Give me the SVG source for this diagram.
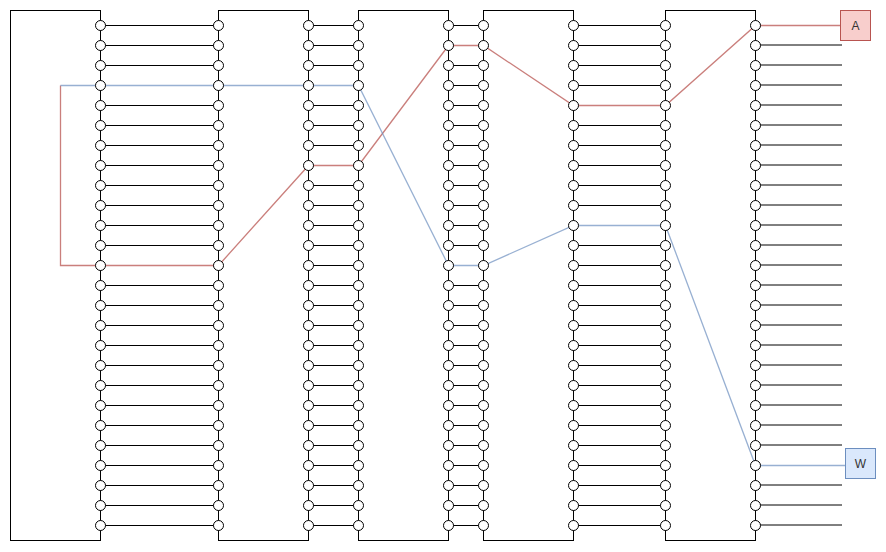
<svg xmlns="http://www.w3.org/2000/svg" width="886" height="552" viewBox="0 0 886 552">
<style>
.panel{fill:none;stroke:#000;stroke-width:1}
.p{fill:#fff;stroke:#000;stroke-width:1}
.wire{fill:none;stroke:#000;stroke-width:1}
.wire2{fill:none;stroke:#000;stroke-width:1}
.red{fill:none;stroke:#b85450;stroke-width:1.3;stroke-opacity:0.75}
.blue{fill:none;stroke:#6c8ebf;stroke-width:1.3;stroke-opacity:0.7}
.lbl{font-family:"Liberation Sans",Arial,sans-serif;font-size:12px;fill:#333;text-anchor:middle;dominant-baseline:central}
</style>
<rect width="886" height="552" fill="#fff"/>
<g id="panels-frames">
<rect class="panel" x="10.5" y="10.5" width="90" height="530"/>
<rect class="panel" x="218.5" y="10.5" width="90" height="530"/>
<rect class="panel" x="358.5" y="10.5" width="90" height="530"/>
<rect class="panel" x="483.5" y="10.5" width="90" height="530"/>
<rect class="panel" x="665.5" y="10.5" width="90" height="530"/>
</g>
<g id="connectors">
<path class="wire" d="M100.5 25.5H218.5M100.5 45.5H218.5M100.5 65.5H218.5M100.5 105.5H218.5M100.5 125.5H218.5M100.5 145.5H218.5M100.5 165.5H218.5M100.5 185.5H218.5M100.5 205.5H218.5M100.5 225.5H218.5M100.5 245.5H218.5M100.5 285.5H218.5M100.5 305.5H218.5M100.5 325.5H218.5M100.5 345.5H218.5M100.5 365.5H218.5M100.5 385.5H218.5M100.5 405.5H218.5M100.5 425.5H218.5M100.5 445.5H218.5M100.5 465.5H218.5M100.5 485.5H218.5M100.5 505.5H218.5M100.5 525.5H218.5"/>
<path class="wire" d="M308.5 25.5H358.5M308.5 45.5H358.5M308.5 65.5H358.5M308.5 105.5H358.5M308.5 125.5H358.5M308.5 145.5H358.5M308.5 185.5H358.5M308.5 205.5H358.5M308.5 225.5H358.5M308.5 245.5H358.5M308.5 265.5H358.5M308.5 285.5H358.5M308.5 305.5H358.5M308.5 325.5H358.5M308.5 345.5H358.5M308.5 365.5H358.5M308.5 385.5H358.5M308.5 405.5H358.5M308.5 425.5H358.5M308.5 445.5H358.5M308.5 465.5H358.5M308.5 485.5H358.5M308.5 505.5H358.5M308.5 525.5H358.5"/>
<path class="wire" d="M448.5 25.5H483.5M448.5 65.5H483.5M448.5 85.5H483.5M448.5 105.5H483.5M448.5 125.5H483.5M448.5 145.5H483.5M448.5 165.5H483.5M448.5 185.5H483.5M448.5 205.5H483.5M448.5 225.5H483.5M448.5 245.5H483.5M448.5 285.5H483.5M448.5 305.5H483.5M448.5 325.5H483.5M448.5 345.5H483.5M448.5 365.5H483.5M448.5 385.5H483.5M448.5 405.5H483.5M448.5 425.5H483.5M448.5 445.5H483.5M448.5 465.5H483.5M448.5 485.5H483.5M448.5 505.5H483.5M448.5 525.5H483.5"/>
<path class="wire" d="M573.5 25.5H665.5M573.5 45.5H665.5M573.5 65.5H665.5M573.5 85.5H665.5M573.5 125.5H665.5M573.5 145.5H665.5M573.5 165.5H665.5M573.5 185.5H665.5M573.5 205.5H665.5M573.5 245.5H665.5M573.5 265.5H665.5M573.5 285.5H665.5M573.5 305.5H665.5M573.5 325.5H665.5M573.5 345.5H665.5M573.5 365.5H665.5M573.5 385.5H665.5M573.5 405.5H665.5M573.5 425.5H665.5M573.5 445.5H665.5M573.5 465.5H665.5M573.5 485.5H665.5M573.5 505.5H665.5M573.5 525.5H665.5"/>
<path class="wire2" d="M755.5 45H842M755.5 65H842M755.5 85H842M755.5 105H842M755.5 125H842M755.5 145H842M755.5 165H842M755.5 185H842M755.5 205H842M755.5 225H842M755.5 245H842M755.5 265H842M755.5 285H842M755.5 305H842M755.5 325H842M755.5 345H842M755.5 365H842M755.5 385H842M755.5 405H842M755.5 425H842M755.5 445H842M755.5 485H842M755.5 505H842M755.5 525H842"/>
<path class="red" d="M840.5 25.5H755.5L665.5 105.5H573.5L483.5 45.5H448.5L358.5 165.5H308.5L218.5 265.5H60.5V85.5"/>
<path class="blue" d="M60.5 85.5H358.5L448.5 265.5H483.5L573.5 225.5H665.5L755.5 465.5H845.5"/>
</g>
<g id="ports-col1">
<circle class="p" cx="100.5" cy="25.5" r="5"/><circle class="p" cx="100.5" cy="45.5" r="5"/><circle class="p" cx="100.5" cy="65.5" r="5"/><circle class="p" cx="100.5" cy="85.5" r="5"/><circle class="p" cx="100.5" cy="105.5" r="5"/><circle class="p" cx="100.5" cy="125.5" r="5"/><circle class="p" cx="100.5" cy="145.5" r="5"/><circle class="p" cx="100.5" cy="165.5" r="5"/><circle class="p" cx="100.5" cy="185.5" r="5"/><circle class="p" cx="100.5" cy="205.5" r="5"/><circle class="p" cx="100.5" cy="225.5" r="5"/><circle class="p" cx="100.5" cy="245.5" r="5"/><circle class="p" cx="100.5" cy="265.5" r="5"/><circle class="p" cx="100.5" cy="285.5" r="5"/><circle class="p" cx="100.5" cy="305.5" r="5"/><circle class="p" cx="100.5" cy="325.5" r="5"/><circle class="p" cx="100.5" cy="345.5" r="5"/><circle class="p" cx="100.5" cy="365.5" r="5"/><circle class="p" cx="100.5" cy="385.5" r="5"/><circle class="p" cx="100.5" cy="405.5" r="5"/><circle class="p" cx="100.5" cy="425.5" r="5"/><circle class="p" cx="100.5" cy="445.5" r="5"/><circle class="p" cx="100.5" cy="465.5" r="5"/><circle class="p" cx="100.5" cy="485.5" r="5"/><circle class="p" cx="100.5" cy="505.5" r="5"/><circle class="p" cx="100.5" cy="525.5" r="5"/>
</g>
<g id="ports-col2">
<circle class="p" cx="218.5" cy="25.5" r="5"/><circle class="p" cx="218.5" cy="45.5" r="5"/><circle class="p" cx="218.5" cy="65.5" r="5"/><circle class="p" cx="218.5" cy="85.5" r="5"/><circle class="p" cx="218.5" cy="105.5" r="5"/><circle class="p" cx="218.5" cy="125.5" r="5"/><circle class="p" cx="218.5" cy="145.5" r="5"/><circle class="p" cx="218.5" cy="165.5" r="5"/><circle class="p" cx="218.5" cy="185.5" r="5"/><circle class="p" cx="218.5" cy="205.5" r="5"/><circle class="p" cx="218.5" cy="225.5" r="5"/><circle class="p" cx="218.5" cy="245.5" r="5"/><circle class="p" cx="218.5" cy="265.5" r="5"/><circle class="p" cx="218.5" cy="285.5" r="5"/><circle class="p" cx="218.5" cy="305.5" r="5"/><circle class="p" cx="218.5" cy="325.5" r="5"/><circle class="p" cx="218.5" cy="345.5" r="5"/><circle class="p" cx="218.5" cy="365.5" r="5"/><circle class="p" cx="218.5" cy="385.5" r="5"/><circle class="p" cx="218.5" cy="405.5" r="5"/><circle class="p" cx="218.5" cy="425.5" r="5"/><circle class="p" cx="218.5" cy="445.5" r="5"/><circle class="p" cx="218.5" cy="465.5" r="5"/><circle class="p" cx="218.5" cy="485.5" r="5"/><circle class="p" cx="218.5" cy="505.5" r="5"/><circle class="p" cx="218.5" cy="525.5" r="5"/>
</g>
<g id="ports-col3">
<circle class="p" cx="308.5" cy="25.5" r="5"/><circle class="p" cx="308.5" cy="45.5" r="5"/><circle class="p" cx="308.5" cy="65.5" r="5"/><circle class="p" cx="308.5" cy="85.5" r="5"/><circle class="p" cx="308.5" cy="105.5" r="5"/><circle class="p" cx="308.5" cy="125.5" r="5"/><circle class="p" cx="308.5" cy="145.5" r="5"/><circle class="p" cx="308.5" cy="165.5" r="5"/><circle class="p" cx="308.5" cy="185.5" r="5"/><circle class="p" cx="308.5" cy="205.5" r="5"/><circle class="p" cx="308.5" cy="225.5" r="5"/><circle class="p" cx="308.5" cy="245.5" r="5"/><circle class="p" cx="308.5" cy="265.5" r="5"/><circle class="p" cx="308.5" cy="285.5" r="5"/><circle class="p" cx="308.5" cy="305.5" r="5"/><circle class="p" cx="308.5" cy="325.5" r="5"/><circle class="p" cx="308.5" cy="345.5" r="5"/><circle class="p" cx="308.5" cy="365.5" r="5"/><circle class="p" cx="308.5" cy="385.5" r="5"/><circle class="p" cx="308.5" cy="405.5" r="5"/><circle class="p" cx="308.5" cy="425.5" r="5"/><circle class="p" cx="308.5" cy="445.5" r="5"/><circle class="p" cx="308.5" cy="465.5" r="5"/><circle class="p" cx="308.5" cy="485.5" r="5"/><circle class="p" cx="308.5" cy="505.5" r="5"/><circle class="p" cx="308.5" cy="525.5" r="5"/>
</g>
<g id="ports-col4">
<circle class="p" cx="358.5" cy="25.5" r="5"/><circle class="p" cx="358.5" cy="45.5" r="5"/><circle class="p" cx="358.5" cy="65.5" r="5"/><circle class="p" cx="358.5" cy="85.5" r="5"/><circle class="p" cx="358.5" cy="105.5" r="5"/><circle class="p" cx="358.5" cy="125.5" r="5"/><circle class="p" cx="358.5" cy="145.5" r="5"/><circle class="p" cx="358.5" cy="165.5" r="5"/><circle class="p" cx="358.5" cy="185.5" r="5"/><circle class="p" cx="358.5" cy="205.5" r="5"/><circle class="p" cx="358.5" cy="225.5" r="5"/><circle class="p" cx="358.5" cy="245.5" r="5"/><circle class="p" cx="358.5" cy="265.5" r="5"/><circle class="p" cx="358.5" cy="285.5" r="5"/><circle class="p" cx="358.5" cy="305.5" r="5"/><circle class="p" cx="358.5" cy="325.5" r="5"/><circle class="p" cx="358.5" cy="345.5" r="5"/><circle class="p" cx="358.5" cy="365.5" r="5"/><circle class="p" cx="358.5" cy="385.5" r="5"/><circle class="p" cx="358.5" cy="405.5" r="5"/><circle class="p" cx="358.5" cy="425.5" r="5"/><circle class="p" cx="358.5" cy="445.5" r="5"/><circle class="p" cx="358.5" cy="465.5" r="5"/><circle class="p" cx="358.5" cy="485.5" r="5"/><circle class="p" cx="358.5" cy="505.5" r="5"/><circle class="p" cx="358.5" cy="525.5" r="5"/>
</g>
<g id="ports-col5">
<circle class="p" cx="448.5" cy="25.5" r="5"/><circle class="p" cx="448.5" cy="45.5" r="5"/><circle class="p" cx="448.5" cy="65.5" r="5"/><circle class="p" cx="448.5" cy="85.5" r="5"/><circle class="p" cx="448.5" cy="105.5" r="5"/><circle class="p" cx="448.5" cy="125.5" r="5"/><circle class="p" cx="448.5" cy="145.5" r="5"/><circle class="p" cx="448.5" cy="165.5" r="5"/><circle class="p" cx="448.5" cy="185.5" r="5"/><circle class="p" cx="448.5" cy="205.5" r="5"/><circle class="p" cx="448.5" cy="225.5" r="5"/><circle class="p" cx="448.5" cy="245.5" r="5"/><circle class="p" cx="448.5" cy="265.5" r="5"/><circle class="p" cx="448.5" cy="285.5" r="5"/><circle class="p" cx="448.5" cy="305.5" r="5"/><circle class="p" cx="448.5" cy="325.5" r="5"/><circle class="p" cx="448.5" cy="345.5" r="5"/><circle class="p" cx="448.5" cy="365.5" r="5"/><circle class="p" cx="448.5" cy="385.5" r="5"/><circle class="p" cx="448.5" cy="405.5" r="5"/><circle class="p" cx="448.5" cy="425.5" r="5"/><circle class="p" cx="448.5" cy="445.5" r="5"/><circle class="p" cx="448.5" cy="465.5" r="5"/><circle class="p" cx="448.5" cy="485.5" r="5"/><circle class="p" cx="448.5" cy="505.5" r="5"/><circle class="p" cx="448.5" cy="525.5" r="5"/>
</g>
<g id="ports-col6">
<circle class="p" cx="483.5" cy="25.5" r="5"/><circle class="p" cx="483.5" cy="45.5" r="5"/><circle class="p" cx="483.5" cy="65.5" r="5"/><circle class="p" cx="483.5" cy="85.5" r="5"/><circle class="p" cx="483.5" cy="105.5" r="5"/><circle class="p" cx="483.5" cy="125.5" r="5"/><circle class="p" cx="483.5" cy="145.5" r="5"/><circle class="p" cx="483.5" cy="165.5" r="5"/><circle class="p" cx="483.5" cy="185.5" r="5"/><circle class="p" cx="483.5" cy="205.5" r="5"/><circle class="p" cx="483.5" cy="225.5" r="5"/><circle class="p" cx="483.5" cy="245.5" r="5"/><circle class="p" cx="483.5" cy="265.5" r="5"/><circle class="p" cx="483.5" cy="285.5" r="5"/><circle class="p" cx="483.5" cy="305.5" r="5"/><circle class="p" cx="483.5" cy="325.5" r="5"/><circle class="p" cx="483.5" cy="345.5" r="5"/><circle class="p" cx="483.5" cy="365.5" r="5"/><circle class="p" cx="483.5" cy="385.5" r="5"/><circle class="p" cx="483.5" cy="405.5" r="5"/><circle class="p" cx="483.5" cy="425.5" r="5"/><circle class="p" cx="483.5" cy="445.5" r="5"/><circle class="p" cx="483.5" cy="465.5" r="5"/><circle class="p" cx="483.5" cy="485.5" r="5"/><circle class="p" cx="483.5" cy="505.5" r="5"/><circle class="p" cx="483.5" cy="525.5" r="5"/>
</g>
<g id="ports-col7">
<circle class="p" cx="573.5" cy="25.5" r="5"/><circle class="p" cx="573.5" cy="45.5" r="5"/><circle class="p" cx="573.5" cy="65.5" r="5"/><circle class="p" cx="573.5" cy="85.5" r="5"/><circle class="p" cx="573.5" cy="105.5" r="5"/><circle class="p" cx="573.5" cy="125.5" r="5"/><circle class="p" cx="573.5" cy="145.5" r="5"/><circle class="p" cx="573.5" cy="165.5" r="5"/><circle class="p" cx="573.5" cy="185.5" r="5"/><circle class="p" cx="573.5" cy="205.5" r="5"/><circle class="p" cx="573.5" cy="225.5" r="5"/><circle class="p" cx="573.5" cy="245.5" r="5"/><circle class="p" cx="573.5" cy="265.5" r="5"/><circle class="p" cx="573.5" cy="285.5" r="5"/><circle class="p" cx="573.5" cy="305.5" r="5"/><circle class="p" cx="573.5" cy="325.5" r="5"/><circle class="p" cx="573.5" cy="345.5" r="5"/><circle class="p" cx="573.5" cy="365.5" r="5"/><circle class="p" cx="573.5" cy="385.5" r="5"/><circle class="p" cx="573.5" cy="405.5" r="5"/><circle class="p" cx="573.5" cy="425.5" r="5"/><circle class="p" cx="573.5" cy="445.5" r="5"/><circle class="p" cx="573.5" cy="465.5" r="5"/><circle class="p" cx="573.5" cy="485.5" r="5"/><circle class="p" cx="573.5" cy="505.5" r="5"/><circle class="p" cx="573.5" cy="525.5" r="5"/>
</g>
<g id="ports-col8">
<circle class="p" cx="665.5" cy="25.5" r="5"/><circle class="p" cx="665.5" cy="45.5" r="5"/><circle class="p" cx="665.5" cy="65.5" r="5"/><circle class="p" cx="665.5" cy="85.5" r="5"/><circle class="p" cx="665.5" cy="105.5" r="5"/><circle class="p" cx="665.5" cy="125.5" r="5"/><circle class="p" cx="665.5" cy="145.5" r="5"/><circle class="p" cx="665.5" cy="165.5" r="5"/><circle class="p" cx="665.5" cy="185.5" r="5"/><circle class="p" cx="665.5" cy="205.5" r="5"/><circle class="p" cx="665.5" cy="225.5" r="5"/><circle class="p" cx="665.5" cy="245.5" r="5"/><circle class="p" cx="665.5" cy="265.5" r="5"/><circle class="p" cx="665.5" cy="285.5" r="5"/><circle class="p" cx="665.5" cy="305.5" r="5"/><circle class="p" cx="665.5" cy="325.5" r="5"/><circle class="p" cx="665.5" cy="345.5" r="5"/><circle class="p" cx="665.5" cy="365.5" r="5"/><circle class="p" cx="665.5" cy="385.5" r="5"/><circle class="p" cx="665.5" cy="405.5" r="5"/><circle class="p" cx="665.5" cy="425.5" r="5"/><circle class="p" cx="665.5" cy="445.5" r="5"/><circle class="p" cx="665.5" cy="465.5" r="5"/><circle class="p" cx="665.5" cy="485.5" r="5"/><circle class="p" cx="665.5" cy="505.5" r="5"/><circle class="p" cx="665.5" cy="525.5" r="5"/>
</g>
<g id="ports-col9">
<circle class="p" cx="755.5" cy="25.5" r="5"/><circle class="p" cx="755.5" cy="45.5" r="5"/><circle class="p" cx="755.5" cy="65.5" r="5"/><circle class="p" cx="755.5" cy="85.5" r="5"/><circle class="p" cx="755.5" cy="105.5" r="5"/><circle class="p" cx="755.5" cy="125.5" r="5"/><circle class="p" cx="755.5" cy="145.5" r="5"/><circle class="p" cx="755.5" cy="165.5" r="5"/><circle class="p" cx="755.5" cy="185.5" r="5"/><circle class="p" cx="755.5" cy="205.5" r="5"/><circle class="p" cx="755.5" cy="225.5" r="5"/><circle class="p" cx="755.5" cy="245.5" r="5"/><circle class="p" cx="755.5" cy="265.5" r="5"/><circle class="p" cx="755.5" cy="285.5" r="5"/><circle class="p" cx="755.5" cy="305.5" r="5"/><circle class="p" cx="755.5" cy="325.5" r="5"/><circle class="p" cx="755.5" cy="345.5" r="5"/><circle class="p" cx="755.5" cy="365.5" r="5"/><circle class="p" cx="755.5" cy="385.5" r="5"/><circle class="p" cx="755.5" cy="405.5" r="5"/><circle class="p" cx="755.5" cy="425.5" r="5"/><circle class="p" cx="755.5" cy="445.5" r="5"/><circle class="p" cx="755.5" cy="465.5" r="5"/><circle class="p" cx="755.5" cy="485.5" r="5"/><circle class="p" cx="755.5" cy="505.5" r="5"/><circle class="p" cx="755.5" cy="525.5" r="5"/>
</g>
<g id="node-A">
<rect x="840.5" y="10.5" width="30" height="30" fill="#f8cecc" stroke="#b85450"/>
<text class="lbl" x="855.5" y="25.5">A</text>
</g>
<g id="node-W">
<rect x="845.5" y="448.5" width="30" height="30" fill="#dae8fc" stroke="#6c8ebf"/>
<text class="lbl" x="860.5" y="463.5">W</text>
</g>
</svg>
